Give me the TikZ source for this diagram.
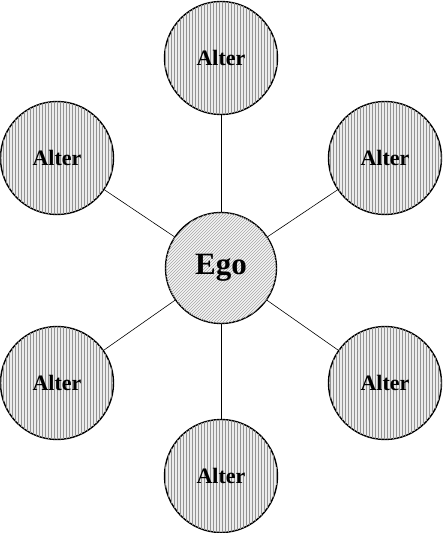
\documentclass[tikz,border=0pt]{standalone}
\usepackage{fontspec}
\setmainfont{Liberation Serif}
\usetikzlibrary{patterns}

\tikzset{
    alter/.style={circle, draw, line width=1.4pt, minimum size=113pt, inner sep=0pt,
        fill=gray!15, postaction={pattern=vertical lines, pattern color=gray!85},
        font=\fontsize{22}{22}\selectfont\bfseries},
    ego/.style={circle, draw, line width=1.4pt, minimum size=111pt, inner sep=0pt,
        fill=gray!8, postaction={pattern=north east lines, pattern color=gray!70},
        font=\fontsize{31}{31}\selectfont\bfseries},
    tie/.style={line width=0.6pt}
}

\begin{document}
\begin{tikzpicture}[x=1pt,y=1pt]
        \useasboundingbox (0,0) rectangle (442,533);
        \node[ego] (ego) at (221,265) {Ego};
        \node[alter] (a1) at (221,475) {Alter};
        \node[alter] (a2) at (385,375) {Alter};
        \node[alter] (a3) at (385,150) {Alter};
        \node[alter] (a4) at (221,57) {Alter};
        \node[alter] (a5) at (57,150) {Alter};
        \node[alter] (a6) at (57,375) {Alter};
        \foreach \i in {1,...,6}
            \draw[tie] (ego) -- (a\i);
    \end{tikzpicture}
\end{document}
